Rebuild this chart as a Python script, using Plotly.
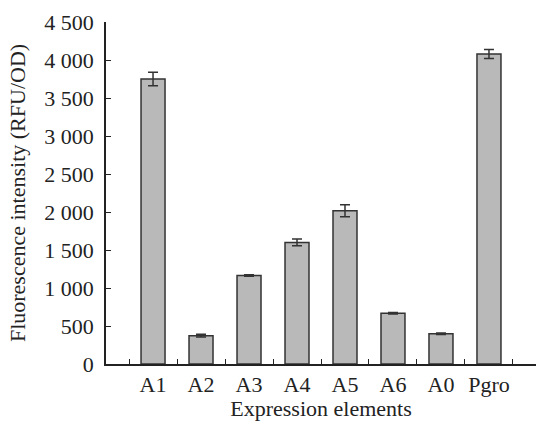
import plotly.graph_objects as go

categories = ["A1", "A2", "A3", "A4", "A5", "A6", "A0", "Pgro"]
values = [3750, 372, 1165, 1600, 2017, 667, 399, 4079]
errors = [90, 18, 10, 45, 80, 10, 10, 60]
y_ticks = [0, 500, 1000, 1500, 2000, 2500, 3000, 3500, 4000, 4500]

FONT = "Liberation Serif"
FS = 22

fig = go.Figure()
fig.add_trace(go.Bar(
    x=categories, y=values,
    width=0.5,
    marker=dict(color="#b9b9b9", line=dict(color="#333333", width=1.5)),
    error_y=dict(type="data", array=errors, visible=True, color="#333333",
                 thickness=1.5, width=5),
))

fig.update_layout(
    width=536, height=421,
    margin=dict(l=106, r=0, t=22, b=57),
    paper_bgcolor="white", plot_bgcolor="white",
    separators=". ",
    showlegend=False,
    font=dict(family=FONT, size=FS, color="#222222"),
    bargap=0.5,
)
fig.update_xaxes(
    type="category",
    range=[-0.98, 7.98],
    automargin=False,
    tickangle=0,
    showline=True, linecolor="#222222", linewidth=1.5,
    ticks="inside", tickson="boundaries", ticklen=5, tickcolor="#222222", tickwidth=1.2,
    showgrid=False, zeroline=False,
    tickfont=dict(family=FONT, size=FS),
    title=dict(text="Expression elements", font=dict(family=FONT, size=FS), standoff=0),
)
fig.update_yaxes(
    range=[0, 4500],
    automargin=False,
    tickvals=y_ticks, tickformat=",d",
    showline=True, linecolor="#222222", linewidth=1.5,
    ticks="inside", ticklen=5, tickcolor="#222222", tickwidth=1.2,
    showgrid=False, zeroline=False,
    tickfont=dict(family=FONT, size=FS),
    ticklabelstandoff=6,
    title=dict(text="Fluorescence intensity (RFU/OD)", font=dict(family=FONT, size=FS), standoff=13),
)

fig.write_html("out.html", config={"displayModeBar": False},
               post_script="document.body.style.margin='0';")
